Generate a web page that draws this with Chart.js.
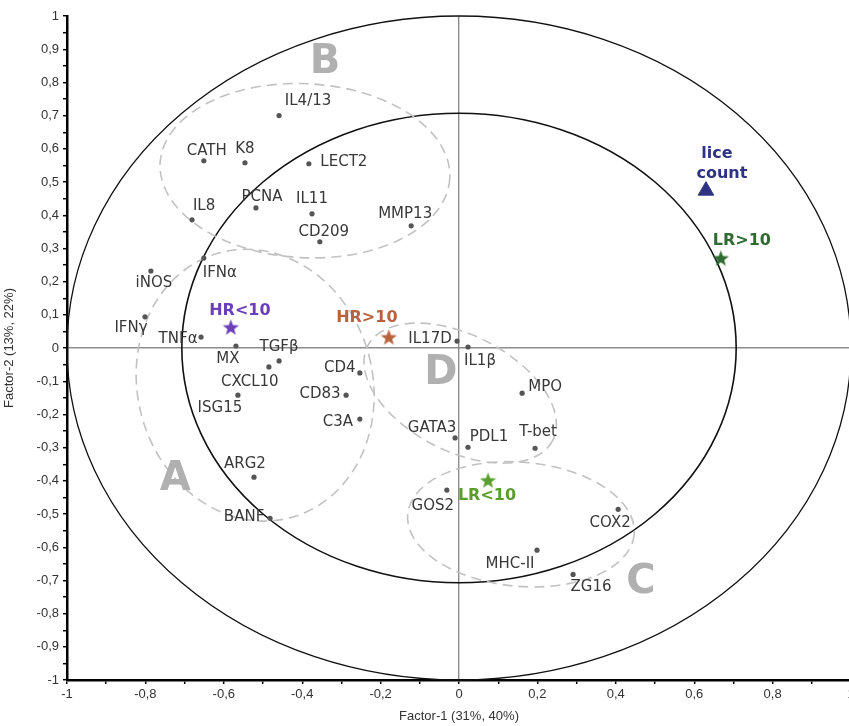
<!DOCTYPE html>
<html>
<head>
<meta charset="utf-8">
<title>Correlation loadings</title>
<script src="https://cdn.jsdelivr.net/npm/chart.js@4/dist/chart.umd.min.js"></script>
<style>
  html, body { margin: 0; padding: 0; background: #fff; overflow: hidden; }
  #wrap { width: 870px; height: 726px; }
</style>
</head>
<body>
<div id="wrap"><canvas id="loadings" width="870" height="726"></canvas></div>
<script>
// gene loadings on factor 1 / factor 2
var genes = ["IL4/13", "CATH", "K8", "LECT2", "IL8", "PCNA", "IL11", "CD209", "MMP13",
  "IFNα", "iNOS", "IFNγ", "TNFα", "MX", "TGFβ", "CXCL10", "ISG15", "CD4", "CD83", "C3A",
  "ARG2", "BANF", "IL17D", "IL1β", "MPO", "GATA3", "PDL1", "T-bet", "GOS2", "COX2",
  "MHC-II", "ZG16"];
var geneX = [-0.459, -0.651, -0.546, -0.383, -0.681, -0.518, -0.375, -0.355, -0.122,
  -0.651, -0.786, -0.801, -0.658, -0.569, -0.459, -0.485, -0.564, -0.253, -0.288, -0.253,
  -0.523, -0.482, -0.005, 0.023, 0.161, -0.010, 0.023, 0.194, -0.031, 0.406,
  0.199, 0.291];
var geneY = [0.700, 0.564, 0.558, 0.555, 0.386, 0.422, 0.404, 0.320, 0.368,
  0.271, 0.232, 0.094, 0.033, 0.006, -0.039, -0.057, -0.142, -0.075, -0.142, -0.214,
  -0.389, -0.513, 0.021, 0.003, -0.136, -0.271, -0.299, -0.302, -0.428, -0.486,
  -0.609, -0.682];

// infection groups and the lice count variable
var groups = ["HR<10", "HR>10", "LR<10", "LR>10"];
var groupX = [-0.582, -0.179, 0.074, 0.668];
var groupY = [0.063, 0.033, -0.398, 0.271];
var liceX = [0.630];
var liceY = [0.474];

// gene clusters A-D
var clusters = ["B", "A", "D", "C"];
var clusterX = [-0.393, -0.520, 0.003, 0.158];
var clusterY = [0.534, -0.112, -0.136, -0.531];
var clusterRx = [0.370, 0.300, 0.265, 0.290];
var clusterRy = [0.262, 0.413, 0.175, 0.187];
var clusterTilt = [3, -15, 27, 5];
var clusterTagX = [-0.342, -0.724, -0.046, 0.464];
var clusterTagY = [0.860, -0.395, -0.078, -0.706];

// 100% and 50% explained variance circles
var circleR = [1, Math.SQRT1_2];

// label placement (px from the dot to the text centre)
var geneLabelDX = [29, 3, 0, 35, 12, 6, 0, 4, -6, 16, 3, -14, -23, -8, 0, -19, -18, -20,
  -26, -22, -9, -26, -27, 12, 23, -23, 21, 3, -14, -8, -27, 18];
var geneLabelDY = [-14, -10, -14, -2, -14, -11, -15, -10, -12, 15, 12, 11, 2, 13, -14, 15,
  13, -5, -1, 3, -13, -1, -2, 14, -6, -10, -10, -16, 16, 14, 14, 13];
var groupColors = ["#6a3fb8", "#b8633c", "#5a9e2f", "#2f6b30"];
var groupLabelDX = [9, -22, -1, 21];
var groupLabelDY = [-16, -19, 16, -17];
var liceColor = "#2d3282";

function starImage(color, size) {
  var c = document.createElement("canvas");
  c.width = size; c.height = size;
  var g = c.getContext("2d");
  var cx = size / 2, cy = size / 2 + 0.8, ro = size / 2, ri = ro * 0.42;
  g.beginPath();
  for (var i = 0; i < 10; i++) {
    var r = i % 2 === 0 ? ro : ri;
    var a = -Math.PI / 2 + i * Math.PI / 5;
    g.lineTo(cx + r * Math.cos(a), cy + r * Math.sin(a));
  }
  g.closePath();
  g.fillStyle = color;
  g.fill();
  return c;
}

function fmt(v) {
  var r = Math.round(v * 10) / 10;
  return String(r).replace(".", ",");
}

var backdrop = {
  id: "backdrop",
  beforeDatasetsDraw: function(chart) {
    var ctx = chart.ctx, xs = chart.scales.x, ys = chart.scales.y;
    var sx = xs.getPixelForValue(1) - xs.getPixelForValue(0);
    var sy = ys.getPixelForValue(0) - ys.getPixelForValue(1);
    var ox = xs.getPixelForValue(0), oy = ys.getPixelForValue(0);
    ctx.save();
    // circles
    ctx.strokeStyle = "#111";
    circleR.forEach(function(r, i) {
      ctx.lineWidth = i === 0 ? 1.3 : 1.6;
      ctx.beginPath();
      ctx.ellipse(ox, oy, r * sx, r * sy, 0, 0, Math.PI * 2);
      ctx.stroke();
    });
    // cluster outlines
    ctx.strokeStyle = "#c2c2c2";
    ctx.lineWidth = 1.6;
    ctx.setLineDash([10, 6]);
    clusters.forEach(function(name, i) {
      ctx.beginPath();
      ctx.ellipse(xs.getPixelForValue(clusterX[i]), ys.getPixelForValue(clusterY[i]),
        clusterRx[i] * sx, clusterRy[i] * sy, clusterTilt[i] * Math.PI / 180, 0, Math.PI * 2);
      ctx.stroke();
    });
    ctx.setLineDash([]);
    // cluster letters
    ctx.fillStyle = "#b0b0b0";
    ctx.font = "bold 40px 'DejaVu Sans'";
    ctx.textAlign = "center";
    ctx.textBaseline = "middle";
    clusters.forEach(function(name, i) {
      ctx.fillText(name, xs.getPixelForValue(clusterTagX[i]), ys.getPixelForValue(clusterTagY[i]));
    });
    ctx.restore();
  },
  afterDatasetsDraw: function(chart) {
    var ctx = chart.ctx, xs = chart.scales.x, ys = chart.scales.y;
    ctx.save();
    ctx.textAlign = "center";
    ctx.textBaseline = "middle";
    ctx.fillStyle = "#383838";
    ctx.font = "15px 'DejaVu Sans'";
    genes.forEach(function(name, i) {
      ctx.fillText(name, xs.getPixelForValue(geneX[i]) + geneLabelDX[i],
        ys.getPixelForValue(geneY[i]) + geneLabelDY[i]);
    });
    ctx.font = "bold 16px 'DejaVu Sans'";
    groups.forEach(function(name, i) {
      ctx.fillStyle = groupColors[i];
      ctx.fillText(name, xs.getPixelForValue(groupX[i]) + groupLabelDX[i],
        ys.getPixelForValue(groupY[i]) + groupLabelDY[i]);
    });
    ctx.fillStyle = liceColor;
    var lx = xs.getPixelForValue(liceX[0]), ly = ys.getPixelForValue(liceY[0]);
    ctx.fillText("lice", lx + 11, ly - 37);
    ctx.fillText("count", lx + 16, ly - 17);
    ctx.restore();
  }
};

var geneData = genes.map(function(g, i) { return { x: geneX[i], y: geneY[i] }; });

var datasets = [{
  label: "genes",
  data: geneData,
  pointRadius: 2.6,
  pointBackgroundColor: "#555",
  pointBorderWidth: 0
}];
groups.forEach(function(name, i) {
  datasets.push({
    label: name,
    data: [{ x: groupX[i], y: groupY[i] }],
    pointStyle: starImage(groupColors[i], 17)
  });
});
datasets.push({
  label: "lice count",
  data: [{ x: liceX[0], y: liceY[0] }],
  pointStyle: "triangle",
  pointRadius: 9,
  pointBackgroundColor: liceColor,
  pointBorderColor: liceColor
});

function zeroLine(c) {
  return Math.abs(c.tick.value) < 1e-9 ? "#8c8c8c" : "rgba(0,0,0,0)";
}

new Chart(document.getElementById("loadings"), {
  type: "scatter",
  data: { datasets: datasets },
  options: {
    responsive: false,
    animation: false,
    devicePixelRatio: 1,
    layout: { padding: { top: 16, right: 19, left: 0, bottom: 0 } },
    plugins: { legend: { display: false }, tooltip: { enabled: false } },
    scales: {
      x: {
        min: -1, max: 1,
        afterFit: function(s) { s.height = 46; },
        border: { display: true, color: "#000", width: 2.5 },
        grid: { color: zeroLine, lineWidth: 1.4, tickColor: "#000", tickLength: 4, tickWidth: 1.5 },
        ticks: {
          stepSize: 0.1, autoSkip: false, maxRotation: 0, padding: 3,
          color: "#333", font: { family: "'Liberation Sans'", size: 13 },
          callback: function(v) { return Math.round(v * 10) % 2 === 0 ? fmt(v) : ""; }
        },
        title: {
          display: true, text: "Factor-1 (31%, 40%)", color: "#333",
          font: { family: "'Liberation Sans'", size: 13 }, padding: { top: 0, bottom: 2 }
        }
      },
      y: {
        min: -1, max: 1,
        afterFit: function(s) { s.width = 67; },
        border: { display: true, color: "#000", width: 2.5 },
        grid: { color: zeroLine, lineWidth: 1.4, tickColor: "#000", tickLength: 4, tickWidth: 1.5 },
        ticks: {
          stepSize: 0.05, autoSkip: false, padding: 4,
          color: "#333", font: { family: "'Liberation Sans'", size: 13 },
          callback: function(v) { return Math.round(v * 20) % 2 === 0 ? fmt(v) : ""; }
        },
        title: {
          display: true, text: "Factor-2 (13%, 22%)", color: "#333",
          font: { family: "'Liberation Sans'", size: 13 }, padding: { top: 2, bottom: 0 }
        }
      }
    }
  },
  plugins: [backdrop]
});
</script>
</body>
</html>
